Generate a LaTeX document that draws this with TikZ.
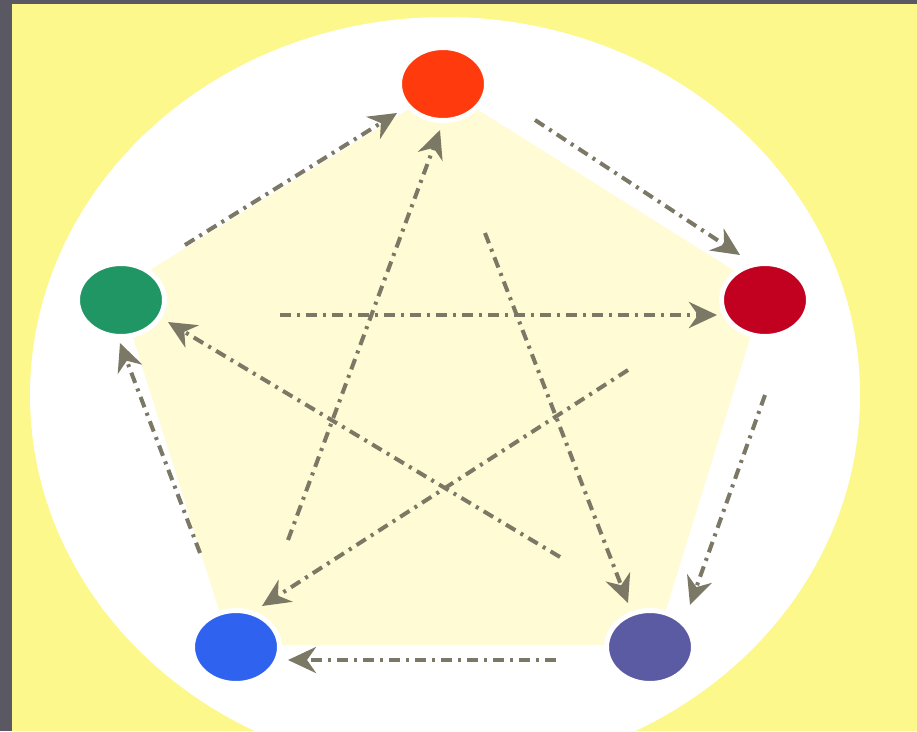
\documentclass[tikz,border=0pt]{standalone}
\usetikzlibrary{arrows.meta,shapes.geometric}
\definecolor{bgyellow}{HTML}{FCF88C}
\definecolor{paleyellow}{HTML}{FFFBD4}
\definecolor{framegray}{HTML}{5A5862}
\definecolor{arrowgray}{HTML}{7C7866}
\definecolor{cRed}{HTML}{FF3B0D}
\definecolor{cDarkRed}{HTML}{C2001F}
\definecolor{cGreen}{HTML}{1F9663}
\definecolor{cBlue}{HTML}{2F62EE}
\definecolor{cSlate}{HTML}{5B5BA3}
\tikzset{
  dotnode/.style={ellipse, minimum width=87pt, minimum height=73pt, inner sep=0pt, draw=white, line width=5pt},
  conn/.style={draw=arrowgray, line width=4pt, dash pattern=on 11pt off 6pt on 3pt off 6pt,
    -{Stealth[length=28pt,width=26pt,inset=9pt]}}
}
\begin{document}
\begin{tikzpicture}[x=1pt,y=-1pt]
\useasboundingbox (0,0) rectangle (917,731);
\fill[bgyellow] (0,0) rectangle (917,731);
\begin{scope}
  \clip (0,0) rectangle (917,731);
  \fill[white] (445,395) ellipse [x radius=415, y radius=378];
\end{scope}
\fill[framegray] (0,0) rectangle (12,731);
\fill[framegray] (0,0) rectangle (917,4);
\fill[paleyellow, rounded corners=40pt] (443,88) -- (765,290) -- (655,645) -- (230,645) -- (118,290) -- cycle;

\node[dotnode, fill=cRed] (R) at (443,84) {};
\node[dotnode, fill=cDarkRed] (D) at (765,300) {};
\node[dotnode, fill=cGreen] (G) at (121,300) {};
\node[dotnode, fill=cBlue] (B) at (236,647) {};
\node[dotnode, fill=cSlate] (S) at (650,647) {};

\coordinate (s1) at (185,245);  \coordinate (t1) at (397,113);
\coordinate (s2) at (535,120);  \coordinate (t2) at (740,255);
\coordinate (s3) at (280,315);  \coordinate (t3) at (717,315);
\coordinate (s4) at (765,395);  \coordinate (t4) at (690,605);
\coordinate (s5) at (556,660);  \coordinate (t5) at (288,660);
\coordinate (s6) at (200,553);  \coordinate (t6) at (120,343);
\coordinate (s7) at (288,540);  \coordinate (t7) at (440,130);
\coordinate (s8) at (485,233);  \coordinate (t8) at (628,603);
\coordinate (s9) at (628,370);  \coordinate (t9) at (262,606);
\coordinate (s10) at (560,557); \coordinate (t10) at (168,322);

\draw[conn] (s1) -- (t1);
\draw[conn] (s2) -- (t2);
\draw[conn] (s3) -- (t3);
\draw[conn] (s4) -- (t4);
\draw[conn] (s5) -- (t5);
\draw[conn] (s6) -- (t6);
\draw[conn] (s7) -- (t7);
\draw[conn] (s8) -- (t8);
\draw[conn] (s9) -- (t9);
\draw[conn] (s10) -- (t10);
\end{tikzpicture}
\end{document}
